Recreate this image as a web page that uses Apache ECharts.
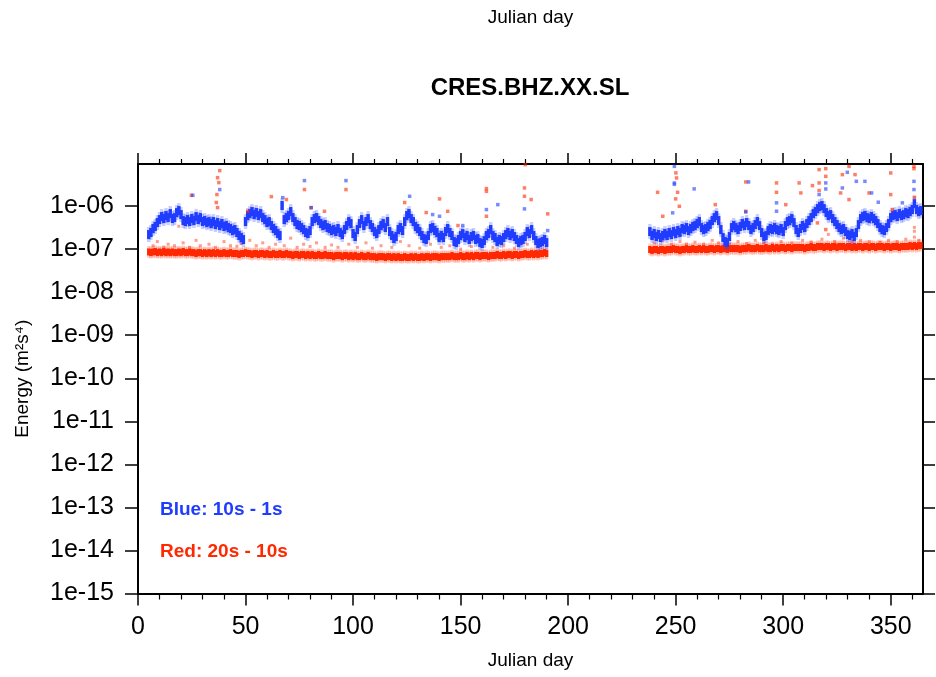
<!DOCTYPE html>
<html>
<head>
<meta charset="utf-8">
<title>CRES.BHZ.XX.SL</title>
<script src="https://cdn.jsdelivr.net/npm/echarts@6/dist/echarts.min.js"></script>
<style>
  html, body { margin: 0; padding: 0; background: #fff; }
  #chart { width: 936px; height: 677px; }
</style>
</head>
<body>
<div id="chart"></div>
<script>
// Station and axis text
const stationName = 'CRES.BHZ.XX.SL';
const xAxisName = 'Julian day';
const yAxisName = 'Energy (m²s⁴)';
const blueLabel = 'Blue: 10s - 1s';
const redLabel = 'Red: 20s - 10s';

// Tick positions and labels
const xTickValues = [0, 50, 100, 150, 200, 250, 300, 350];
const yTickValues = [1e-15, 1e-14, 1e-13, 1e-12, 1e-11, 1e-10, 1e-9, 1e-8, 1e-7, 1e-6];
const yTickLabels = ['1e-15', '1e-14', '1e-13', '1e-12', '1e-11', '1e-10', '1e-09', '1e-08', '1e-07', '1e-06'];

// First Julian day of each recorded segment (gap in between)
const segmentStartDays = [5, 238];

// 10s - 1s band energy, one value per day, segment 1 (days 5..190)
const blueSeg1 = [
  2.18e-7, 2.43e-7, 3.01e-7, 3.35e-7, 4.14e-7, 4.86e-7, 5.71e-7, 5.13e-7, 6.02e-7, 5.41e-7,
  6.70e-7, 5.13e-7, 5.41e-7, 7.07e-7, 7.87e-7, 6.35e-7, 4.61e-7, 4.37e-7, 4.86e-7, 4.37e-7,
  5.13e-7, 4.61e-7, 5.71e-7, 4.86e-7, 5.41e-7, 4.37e-7, 4.61e-7, 4.14e-7, 4.37e-7, 3.93e-7,
  4.37e-7, 3.72e-7, 4.14e-7, 3.53e-7, 3.93e-7, 3.35e-7, 3.53e-7, 3.17e-7, 3.01e-7, 2.70e-7,
  2.85e-7, 2.43e-7, 2.07e-7, 1.86e-7, 1.67e-7, 4.37e-7, 6.02e-7, 6.70e-7, 7.46e-7, 6.35e-7,
  7.07e-7, 6.02e-7, 6.70e-7, 5.41e-7, 4.86e-7, 4.14e-7, 4.37e-7, 3.53e-7, 3.01e-7, 2.70e-7,
  2.30e-7, 2.07e-7, 1.03e-6, 4.86e-7, 5.41e-7, 6.02e-7, 7.46e-7, 5.41e-7, 4.37e-7, 3.72e-7,
  3.53e-7, 3.17e-7, 2.85e-7, 2.43e-7, 2.30e-7, 2.70e-7, 4.37e-7, 5.13e-7, 5.41e-7, 4.61e-7,
  3.93e-7, 3.53e-7, 3.72e-7, 3.17e-7, 3.01e-7, 2.70e-7, 2.85e-7, 2.56e-7, 3.01e-7, 2.43e-7,
  2.18e-7, 2.85e-7, 3.53e-7, 4.37e-7, 3.93e-7, 2.30e-7, 1.96e-7, 2.85e-7, 3.93e-7, 4.86e-7,
  3.53e-7, 4.37e-7, 5.13e-7, 3.72e-7, 3.17e-7, 2.56e-7, 2.30e-7, 2.85e-7, 3.53e-7, 3.93e-7,
  3.17e-7, 4.37e-7, 2.56e-7, 2.07e-7, 1.76e-7, 1.96e-7, 2.85e-7, 3.17e-7, 2.70e-7, 4.37e-7,
  6.02e-7, 6.70e-7, 5.13e-7, 4.37e-7, 3.35e-7, 3.01e-7, 2.56e-7, 2.07e-7, 1.76e-7, 1.67e-7,
  2.07e-7, 3.01e-7, 3.17e-7, 2.70e-7, 2.43e-7, 1.86e-7, 2.07e-7, 1.86e-7, 2.56e-7, 3.01e-7,
  2.43e-7, 2.07e-7, 1.50e-7, 1.42e-7, 1.67e-7, 2.07e-7, 2.30e-7, 1.86e-7, 2.07e-7, 1.67e-7,
  1.96e-7, 2.07e-7, 1.67e-7, 1.76e-7, 1.42e-7, 1.35e-7, 1.58e-7, 2.07e-7, 2.30e-7, 2.85e-7,
  2.07e-7, 1.86e-7, 1.50e-7, 1.67e-7, 1.58e-7, 1.86e-7, 2.18e-7, 2.43e-7, 2.07e-7, 2.30e-7,
  1.96e-7, 1.67e-7, 1.42e-7, 1.58e-7, 1.67e-7, 1.96e-7, 2.56e-7, 2.30e-7, 2.85e-7, 2.07e-7,
  1.58e-7, 1.35e-7, 1.42e-7, 1.50e-7, 1.67e-7, 1.42e-7
];

// 10s - 1s band energy, segment 2 (days 238..364)
const blueSeg2 = [
  2.56e-7, 2.07e-7, 2.30e-7, 1.96e-7, 2.18e-7, 1.86e-7, 2.07e-7, 2.30e-7, 2.07e-7, 2.43e-7,
  2.18e-7, 2.56e-7, 2.30e-7, 2.70e-7, 2.43e-7, 3.01e-7, 2.85e-7, 3.17e-7, 2.70e-7, 3.01e-7,
  3.35e-7, 3.53e-7, 3.93e-7, 4.37e-7, 3.17e-7, 2.85e-7, 3.01e-7, 3.35e-7, 3.72e-7, 4.61e-7,
  5.41e-7, 6.02e-7, 4.61e-7, 2.85e-7, 1.86e-7, 1.50e-7, 1.42e-7, 1.96e-7, 3.17e-7, 3.53e-7,
  3.17e-7, 2.85e-7, 3.35e-7, 3.93e-7, 3.53e-7, 4.14e-7, 3.53e-7, 2.85e-7, 3.17e-7, 3.72e-7,
  4.37e-7, 3.53e-7, 2.43e-7, 1.96e-7, 2.07e-7, 2.70e-7, 3.01e-7, 2.85e-7, 3.17e-7, 2.85e-7,
  2.70e-7, 3.01e-7, 2.56e-7, 3.53e-7, 4.37e-7, 4.61e-7, 5.13e-7, 4.14e-7, 2.85e-7, 2.43e-7,
  3.01e-7, 3.53e-7, 3.17e-7, 3.93e-7, 4.61e-7, 5.41e-7, 6.70e-7, 7.46e-7, 8.75e-7, 9.74e-7,
  1.03e-6, 8.75e-7, 7.07e-7, 6.02e-7, 6.35e-7, 5.13e-7, 4.37e-7, 3.72e-7, 3.17e-7, 2.85e-7,
  3.01e-7, 2.56e-7, 2.18e-7, 2.07e-7, 2.30e-7, 1.96e-7, 2.43e-7, 3.72e-7, 5.13e-7, 5.71e-7,
  6.02e-7, 5.41e-7, 5.13e-7, 5.71e-7, 5.13e-7, 4.61e-7, 3.93e-7, 3.17e-7, 2.85e-7, 2.70e-7,
  3.17e-7, 3.93e-7, 5.41e-7, 6.02e-7, 6.35e-7, 5.71e-7, 6.70e-7, 6.02e-7, 6.35e-7, 7.07e-7,
  6.70e-7, 7.46e-7, 8.30e-7, 1.14e-6, 8.30e-7, 7.46e-7, 7.87e-7
];

// 20s - 10s band energy, segment 1 (days 5..190)
const redSeg1 = [
  8.6e-8, 8.3e-8, 8.6e-8, 8.8e-8, 8.3e-8, 8.6e-8, 8.3e-8, 8.8e-8, 8.3e-8, 8.6e-8,
  8.3e-8, 8.6e-8, 8.3e-8, 8.3e-8, 8.6e-8, 8.3e-8, 8.8e-8, 8.3e-8, 8.3e-8, 8.6e-8,
  8.3e-8, 8.3e-8, 7.9e-8, 8.3e-8, 8.3e-8, 7.9e-8, 8.3e-8, 7.9e-8, 8.3e-8, 7.9e-8,
  8.3e-8, 7.9e-8, 8.3e-8, 7.9e-8, 7.9e-8, 8.3e-8, 7.9e-8, 7.9e-8, 8.3e-8, 7.9e-8,
  7.9e-8, 7.9e-8, 7.5e-8, 7.9e-8, 7.9e-8, 8.3e-8, 7.9e-8, 7.9e-8, 7.5e-8, 7.9e-8,
  7.9e-8, 7.5e-8, 7.9e-8, 7.9e-8, 7.5e-8, 7.9e-8, 7.5e-8, 7.5e-8, 7.9e-8, 7.5e-8,
  7.5e-8, 7.9e-8, 7.5e-8, 7.5e-8, 7.9e-8, 7.5e-8, 7.5e-8, 7.1e-8, 7.5e-8, 7.5e-8,
  7.1e-8, 7.5e-8, 7.5e-8, 7.1e-8, 7.5e-8, 7.1e-8, 7.5e-8, 7.1e-8, 7.1e-8, 7.5e-8,
  7.1e-8, 7.1e-8, 7.5e-8, 7.1e-8, 7.1e-8, 7.1e-8, 6.7e-8, 7.1e-8, 7.1e-8, 7.1e-8,
  6.7e-8, 7.1e-8, 7.1e-8, 6.7e-8, 7.1e-8, 6.7e-8, 7.1e-8, 6.7e-8, 6.7e-8, 7.1e-8,
  6.7e-8, 6.7e-8, 7.1e-8, 6.7e-8, 6.7e-8, 6.7e-8, 6.4e-8, 6.7e-8, 6.7e-8, 6.7e-8,
  6.4e-8, 6.7e-8, 6.7e-8, 6.4e-8, 6.7e-8, 6.4e-8, 6.7e-8, 6.4e-8, 6.4e-8, 6.7e-8,
  6.4e-8, 6.4e-8, 6.7e-8, 6.4e-8, 6.7e-8, 6.4e-8, 6.4e-8, 6.7e-8, 6.4e-8, 6.7e-8,
  6.7e-8, 6.4e-8, 6.7e-8, 6.7e-8, 6.7e-8, 6.4e-8, 6.7e-8, 6.7e-8, 6.7e-8, 6.7e-8,
  6.7e-8, 7.1e-8, 6.7e-8, 6.7e-8, 6.7e-8, 7.1e-8, 6.7e-8, 6.7e-8, 7.1e-8, 6.7e-8,
  7.1e-8, 6.7e-8, 7.1e-8, 7.1e-8, 6.7e-8, 7.1e-8, 7.1e-8, 7.1e-8, 6.7e-8, 7.1e-8,
  7.1e-8, 7.1e-8, 7.5e-8, 7.1e-8, 7.1e-8, 7.5e-8, 7.1e-8, 7.5e-8, 7.5e-8, 7.1e-8,
  7.5e-8, 7.5e-8, 7.1e-8, 7.5e-8, 7.5e-8, 7.9e-8, 7.5e-8, 7.5e-8, 7.9e-8, 7.5e-8,
  7.9e-8, 7.5e-8, 7.9e-8, 7.9e-8, 8.3e-8, 7.9e-8
];

// 20s - 10s band energy, segment 2 (days 238..364)
const redSeg2 = [
  9.8e-8, 9.3e-8, 9.8e-8, 9.8e-8, 9.3e-8, 9.8e-8, 9.8e-8, 9.3e-8, 9.8e-8, 9.8e-8,
  9.8e-8, 1.03e-7, 9.8e-8, 9.8e-8, 9.3e-8, 9.8e-8, 9.8e-8, 1.03e-7, 9.8e-8, 9.8e-8,
  1.03e-7, 9.8e-8, 9.8e-8, 1.03e-7, 9.8e-8, 1.03e-7, 9.8e-8, 9.8e-8, 1.03e-7, 1.03e-7,
  9.8e-8, 1.03e-7, 1.03e-7, 9.8e-8, 1.03e-7, 1.03e-7, 9.8e-8, 1.03e-7, 1.03e-7, 1.03e-7,
  1.03e-7, 1.03e-7, 9.8e-8, 1.03e-7, 1.03e-7, 1.03e-7, 1.09e-7, 1.03e-7, 1.03e-7, 1.03e-7,
  1.09e-7, 1.03e-7, 1.03e-7, 1.03e-7, 1.09e-7, 1.03e-7, 1.03e-7, 1.09e-7, 1.03e-7, 1.09e-7,
  1.03e-7, 1.09e-7, 1.09e-7, 1.03e-7, 1.09e-7, 1.09e-7, 1.03e-7, 1.09e-7, 1.09e-7, 1.09e-7,
  1.09e-7, 1.09e-7, 1.03e-7, 1.09e-7, 1.09e-7, 1.15e-7, 1.09e-7, 1.09e-7, 1.15e-7, 1.15e-7,
  1.15e-7, 1.09e-7, 1.15e-7, 1.15e-7, 1.09e-7, 1.15e-7, 1.15e-7, 1.09e-7, 1.15e-7, 1.15e-7,
  1.15e-7, 1.09e-7, 1.15e-7, 1.15e-7, 1.09e-7, 1.15e-7, 1.09e-7, 1.15e-7, 1.15e-7, 1.09e-7,
  1.15e-7, 1.15e-7, 1.09e-7, 1.15e-7, 1.15e-7, 1.09e-7, 1.15e-7, 1.15e-7, 1.15e-7, 1.09e-7,
  1.15e-7, 1.15e-7, 1.09e-7, 1.15e-7, 1.15e-7, 1.15e-7, 1.09e-7, 1.15e-7, 1.15e-7, 1.15e-7,
  1.15e-7, 1.21e-7, 1.15e-7, 1.21e-7, 1.15e-7, 1.21e-7, 1.21e-7
];

// Isolated 10s - 1s readings above the band: [day, energy]
const blueOutliers = [
  [25.5, 1.78e-6], [38, 2.42e-6], [67.3, 1.57e-6], [77.4, 3.91e-6], [80.5, 9.2e-7],
  [96.7, 3.91e-6], [126.3, 1.69e-6], [137, 6.35e-7], [140.2, 5.8e-7], [151, 3.53e-7],
  [162, 8.3e-7], [167.3, 1.08e-6], [179.7, 8.6e-7], [190.5, 2.7e-7], [248.6, 6.96e-7],
  [249.4, 3.45e-6], [249.4, 3.2e-6], [249.4, 8.37e-6], [258.6, 2.51e-6], [283.9, 3.64e-6],
  [282.6, 7.3e-7], [296.9, 1.19e-6], [296.9, 7.6e-7], [316.7, 1.85e-6], [319.8, 3.45e-6],
  [319.8, 2.5e-6], [327.5, 2.64e-6], [329.8, 6.09e-6], [334, 3.76e-6], [338, 3.76e-6],
  [341.1, 2.02e-6], [344.2, 1.23e-6], [355.4, 1.19e-6], [360.8, 3.76e-6], [360.8, 2.42e-6]
];

// Isolated 20s - 10s readings well above the band: [day, energy]
const redOutliers = [
  [36.7, 1.85e-6], [36.4, 1.21e-6], [37, 9.2e-7], [37, 4.58e-6], [37.6, 3.51e-6],
  [38, 6.67e-6], [24.8, 1.78e-6], [51, 7.57e-7], [62, 1.66e-6], [69, 1.42e-6],
  [77.4, 2.42e-6], [80.5, 9.2e-7], [86.7, 7.57e-7], [96.7, 2.42e-6], [124, 1.21e-6],
  [134, 7.07e-7], [140.2, 1.47e-6], [144, 7.57e-7], [148.8, 3.53e-7], [162, 2.55e-6],
  [162, 2.2e-6], [162, 5.8e-7], [179.7, 2.64e-6], [179.7, 1.69e-6], [180, 9.2e-6],
  [182.8, 1.42e-6], [190.5, 6.6e-7], [241.6, 2.09e-6], [244, 5.8e-7], [250.1, 5.89e-6],
  [250.4, 4.51e-6], [250.9, 2.09e-6], [250, 1.47e-6], [251.7, 9.9e-7], [268.4, 1.08e-6],
  [282.6, 3.64e-6], [282.6, 7.57e-7], [296.9, 3.45e-6], [296.9, 2.09e-6], [301.2, 1.08e-6],
  [307.4, 3.45e-6], [308.2, 2.02e-6], [313.6, 2.99e-6], [315.9, 4.07e-7], [316.7, 7.03e-6],
  [316.7, 3.45e-6], [316.7, 2.3e-6], [319.8, 7.41e-6], [319.8, 4.91e-6], [319.8, 2.85e-7],
  [326.7, 2.02e-6], [327.5, 5.38e-6], [330.6, 8.37e-6], [330.6, 1.42e-6], [333.4, 5.38e-6],
  [339.9, 2.02e-6], [350, 5.89e-6], [350, 1.85e-6], [350.7, 8.3e-7], [360.8, 8.37e-6],
  [360.8, 7.4e-6], [361, 1.6e-6]
];

// Scattered 20s - 10s readings just above the band: [day, energy]
const redFringe = [
  [7, 1.2e-7], [9, 1.5e-7], [12, 1.1e-7], [14, 1.3e-7], [17, 1.2e-7], [19, 3.4e-7], [21, 1.4e-7],
  [24, 1.1e-7], [27, 1.6e-7], [29, 1.2e-7], [33, 1.3e-7], [36, 1.1e-7], [40, 1.5e-7], [43, 1.2e-7],
  [46, 1.17e-7], [48, 1.35e-7], [52, 1.6e-7], [55, 1.2e-7], [58, 1.4e-7], [61, 1.1e-7], [64, 1.3e-7],
  [68, 1.2e-7], [71, 1.8e-7], [74, 1.1e-7], [77, 1.3e-7], [80, 1.15e-7], [83, 1.4e-7], [87, 1.1e-7],
  [90, 1.25e-7], [93, 1.1e-7], [98, 1.3e-7], [102, 1.1e-7], [106, 1.4e-7], [109, 1.05e-7], [113, 1.2e-7],
  [118, 1.1e-7], [122, 1.5e-7], [126, 1.2e-7], [131, 1.05e-7], [136, 1.3e-7], [141, 1.1e-7], [145, 1.2e-7],
  [150, 1.0e-7], [155, 1.15e-7], [160, 1.3e-7], [165, 1.1e-7], [170, 1.2e-7], [175, 1.05e-7], [181, 1.3e-7],
  [186, 1.15e-7], [189, 1.4e-7],
  [240, 1.4e-7], [244, 1.6e-7], [248, 1.3e-7], [252, 1.5e-7], [255, 1.3e-7], [259, 1.45e-7], [263, 1.3e-7],
  [267, 1.6e-7], [270, 1.4e-7], [275, 1.3e-7], [279, 1.5e-7], [283, 1.35e-7], [287, 1.6e-7], [291, 1.4e-7],
  [295, 1.3e-7], [299, 1.5e-7], [304, 1.4e-7], [309, 1.6e-7], [313, 1.45e-7], [318, 1.7e-7], [321, 2.2e-7],
  [324, 1.5e-7], [328, 1.8e-7], [332, 1.5e-7], [336, 1.6e-7], [340, 1.5e-7], [345, 1.45e-7], [349, 1.6e-7],
  [353, 1.5e-7], [357, 1.7e-7], [361, 1.9e-7], [361, 2.6e-7], [361, 3.2e-7], [363, 1.6e-7]
];

// Pair each daily value with its Julian day
function dailyPoints(segments) {
  const out = [];
  segments.forEach((values, s) => {
    values.forEach((v, i) => out.push([segmentStartDays[s] + i, v]));
  });
  return out;
}

const BLUE = '#1f3cff';
const RED = '#ff2800';
const FONT = '"Liberation Sans", Arial, Helvetica, sans-serif';

const chart = echarts.init(document.getElementById('chart'), null, { renderer: 'canvas' });

const yLabelFmt = (v) => {
  const i = yTickValues.findIndex(t => Math.abs(Math.log10(t) - Math.log10(v)) < 1e-6);
  return i >= 0 ? yTickLabels[i] : '';
};

const axisLineStyle = { color: '#000', width: 2 };
const bluePoints = dailyPoints([blueSeg1, blueSeg2]);
const redPoints = dailyPoints([redSeg1, redSeg2]);

chart.setOption({
  animation: false,
  backgroundColor: '#fff',
  grid: { left: 138, top: 164, right: 13, bottom: 83.5, containLabel: false },
  xAxis: [
    {
      type: 'value', position: 'bottom', min: 0, max: 365, interval: 50,
      name: xAxisName, nameLocation: 'middle', nameGap: 58,
      nameTextStyle: { fontFamily: FONT, fontSize: 19, color: '#000' },
      axisLine: { show: true, onZero: false, lineStyle: axisLineStyle },
      axisTick: { show: true, inside: false, length: 12, customValues: xTickValues, lineStyle: { color: '#000', width: 1.5 } },
      minorTick: { show: true, splitNumber: 5, length: 6, lineStyle: { color: '#000', width: 1.2 } },
      axisLabel: { show: true, margin: 21, customValues: xTickValues, fontFamily: FONT, fontSize: 25, color: '#000' },
      splitLine: { show: false }, minorSplitLine: { show: false }
    },
    {
      type: 'value', position: 'top', min: 0, max: 365, interval: 50,
      name: xAxisName, nameLocation: 'middle', nameGap: 137,
      nameTextStyle: { fontFamily: FONT, fontSize: 19, color: '#000' },
      axisLine: { show: true, onZero: false, lineStyle: axisLineStyle },
      axisTick: { show: true, inside: false, length: 11, customValues: xTickValues, lineStyle: { color: '#000', width: 1.5 } },
      minorTick: { show: true, splitNumber: 5, length: 5, lineStyle: { color: '#000', width: 1.2 } },
      axisLabel: { show: false },
      splitLine: { show: false }
    }
  ],
  yAxis: [
    {
      type: 'log', logBase: 10, position: 'left', min: 1e-15, max: 9.5e-6,
      name: yAxisName, nameLocation: 'middle', nameGap: 106, nameRotate: 90,
      nameTextStyle: { fontFamily: FONT, fontSize: 19, color: '#000' },
      axisLine: { show: true, onZero: false, lineStyle: axisLineStyle },
      axisTick: { show: true, inside: false, length: 13, customValues: yTickValues, lineStyle: { color: '#000', width: 1.5 } },
      axisLabel: { show: true, margin: 24, customValues: yTickValues, formatter: yLabelFmt, fontFamily: FONT, fontSize: 25, color: '#000' },
      splitLine: { show: false }, minorTick: { show: false }
    },
    {
      type: 'log', logBase: 10, position: 'right', min: 1e-15, max: 9.5e-6,
      axisLine: { show: true, onZero: false, lineStyle: axisLineStyle },
      axisTick: { show: true, inside: false, length: 12, customValues: yTickValues, lineStyle: { color: '#000', width: 1.5 } },
      axisLabel: { show: false },
      splitLine: { show: false }
    }
  ],
  series: [
    {
      name: 'red fringe', type: 'scatter', xAxisIndex: 0, yAxisIndex: 0, silent: true,
      symbol: 'rect', symbolSize: 3, itemStyle: { color: RED, opacity: 0.45 },
      data: redFringe
    },
    {
      // soft spread around the daily 20s - 10s level
      name: '20s - 10s spread', type: 'scatter', xAxisIndex: 0, yAxisIndex: 0, silent: true,
      symbol: 'rect', symbolSize: [3.4, 12], itemStyle: { color: RED, opacity: 0.22 },
      data: redPoints
    },
    {
      name: '20s - 10s', type: 'scatter', xAxisIndex: 0, yAxisIndex: 0, silent: true,
      symbol: 'rect', symbolSize: [3.4, 7], itemStyle: { color: RED, opacity: 1 },
      data: redPoints
    },
    {
      // soft spread around the daily 10s - 1s level
      name: '10s - 1s spread', type: 'scatter', xAxisIndex: 0, yAxisIndex: 0, silent: true,
      symbol: 'rect', symbolSize: [3.4, 15], itemStyle: { color: BLUE, opacity: 0.25 },
      data: bluePoints
    },
    {
      name: '10s - 1s', type: 'scatter', xAxisIndex: 0, yAxisIndex: 0, silent: true,
      symbol: 'rect', symbolSize: [3.4, 9], itemStyle: { color: BLUE, opacity: 1 },
      data: bluePoints
    },
    {
      name: 'red outliers', type: 'scatter', xAxisIndex: 0, yAxisIndex: 0, silent: true,
      symbol: 'rect', symbolSize: 3.5, itemStyle: { color: RED, opacity: 0.6 },
      data: redOutliers
    },
    {
      name: 'blue outliers', type: 'scatter', xAxisIndex: 0, yAxisIndex: 0, silent: true,
      symbol: 'rect', symbolSize: 3.5, itemStyle: { color: BLUE, opacity: 0.6 },
      data: blueOutliers
    }
  ],
  graphic: [
    {
      type: 'text', x: 530, y: 88, silent: true,
      style: { text: stationName, font: 'bold 24px ' + FONT, fill: '#000', align: 'center', verticalAlign: 'middle' }
    },
    {
      type: 'text', x: 160, y: 510, silent: true,
      style: { text: blueLabel, font: 'bold 19px ' + FONT, fill: BLUE, align: 'left', verticalAlign: 'middle' }
    },
    {
      type: 'text', x: 160, y: 551.5, silent: true,
      style: { text: redLabel, font: 'bold 19px ' + FONT, fill: RED, align: 'left', verticalAlign: 'middle' }
    }
  ]
});
</script>
</body>
</html>
